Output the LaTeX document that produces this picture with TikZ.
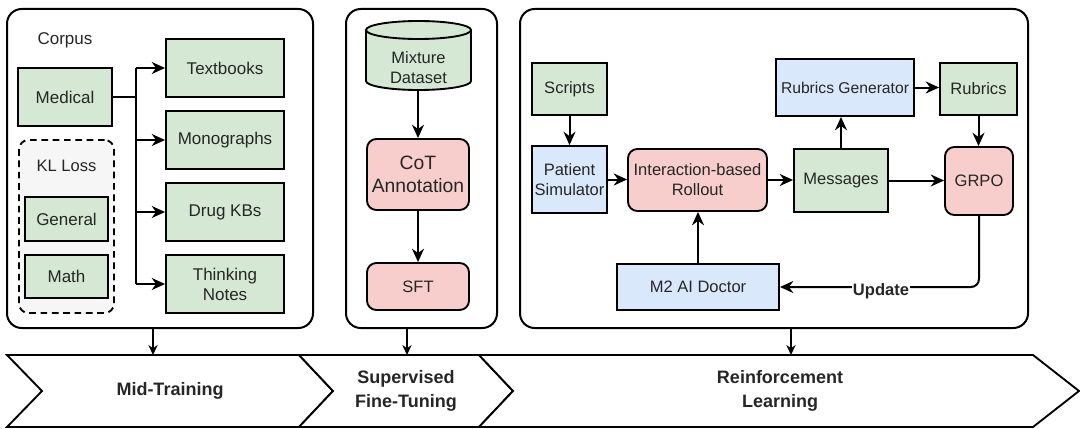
\documentclass[tikz,border=0pt]{standalone}
\usepackage{fontspec}
\setmainfont{Liberation Sans}
\usetikzlibrary{arrows.meta,calc}
\definecolor{gfill}{HTML}{D5E8D4}
\definecolor{bfill}{HTML}{DAE8FC}
\definecolor{rfill}{HTML}{F8CECC}
\definecolor{txt}{HTML}{262626}
\definecolor{klfill}{HTML}{F6F6F6}
\tikzset{
  panel/.style={draw=black, line width=1.5pt, rounded corners=11pt, inner sep=0pt},
  gbox/.style={draw=black, line width=1.4pt, fill=gfill, align=center, text=txt, inner sep=0pt},
  bbox/.style={draw=black, line width=1.4pt, fill=bfill, align=center, text=txt, inner sep=0pt},
  rbox/.style={draw=black, line width=1.4pt, fill=rfill, align=center, text=txt, rounded corners=7pt, inner sep=0pt},
  fA/.style={font=\fontsize{12.75pt}{15pt}\selectfont},
  fB/.style={font=\fontsize{12.4pt}{15pt}\selectfont},
  fC/.style={font=\fontsize{14.5pt}{17pt}\selectfont},
  fbold/.style={font=\fontsize{13.5pt}{18pt}\selectfont\bfseries, text=txt, align=center},
  conn/.style={line width=1.5pt, -{Stealth[length=10pt,width=9pt]}},
  sconn/.style={line width=1.1pt, -{Stealth[length=7.5pt,width=7pt]}},
  chev/.style={draw=black, line width=1.4pt, fill=white, line join=miter},
}
\begin{document}
\begin{tikzpicture}[x=0.75pt,y=-0.75pt]
\useasboundingbox (0,0) rectangle (1080,428);
% panels
\node[panel, minimum width=229.5pt, minimum height=239.25pt] (p1) at (160,168.5) {};
\node[panel, minimum width=113.25pt, minimum height=239.25pt] (p2) at (421.5,168.5) {};
\node[panel, minimum width=381pt, minimum height=239.25pt] (p3) at (774,168.5) {};

% ---- Panel 1
\node[fA, text=txt] (corpus) at (65,40) {Corpus};
\node[gbox, fA, minimum width=70.5pt, minimum height=43.5pt] (med) at (65,97) {Medical};
\node[gbox, fA, minimum width=88.5pt, minimum height=43.5pt] (tb) at (225,68) {Textbooks};
\node[gbox, fA, minimum width=88.5pt, minimum height=43.5pt] (mono) at (225,140) {Monographs};
\node[gbox, fA, minimum width=88.5pt, minimum height=43.5pt] (drug) at (225,212) {Drug KBs};
\node[gbox, fA, minimum width=88.5pt, minimum height=43.5pt] (think) at (225,284) {Thinking\\Notes};
\node[draw=black, line width=1.4pt, dash pattern=on 5pt off 3.5pt, fill=klfill, rounded corners=7pt,
      minimum width=71.25pt, minimum height=129.75pt, inner sep=0pt] (kl) at (66.5,226.5) {};
\node[fB, text=txt] (kltxt) at (66.5,166) {KL Loss};
\node[gbox, fA, minimum width=62.25pt, minimum height=33pt] (gen) at (66.5,219) {General};
\node[gbox, fA, minimum width=62.25pt, minimum height=32.25pt] (math) at (66.5,276.5) {Math};
\coordinate (jt) at (136,68);
\coordinate (jb) at (136,284);
\draw[line width=1.5pt] (med.east) -- (med.east -| jt);
\draw[line width=1.5pt] (jt) -- (jb);
\draw[conn] (tb.west -| jt) -- (tb.west);
\draw[conn] (mono.west -| jt) -- (mono.west);
\draw[conn] (drug.west -| jt) -- (drug.west);
\draw[conn] (think.west -| jt) -- (think.west);

% ---- Panel 2
\fill[gfill] (366,30) -- (366,81) arc[start angle=180,end angle=360,x radius=39.375pt,y radius=6.75pt]
   -- (471,30) arc[start angle=0,end angle=180,x radius=39.375pt,y radius=6.75pt] -- cycle;
\draw[line width=1.4pt] (366,30) -- (366,81) arc[start angle=180,end angle=360,x radius=39.375pt,y radius=6.75pt]
   -- (471,30) arc[start angle=0,end angle=180,x radius=39.375pt,y radius=6.75pt] -- cycle;
\draw[line width=1.4pt] (366,30) arc[start angle=180,end angle=360,x radius=39.375pt,y radius=6.75pt];
\node[fB, text=txt, align=center, minimum width=78.75pt, minimum height=51.75pt, inner sep=0pt] (mix) at (418.5,68) {Mixture\\Dataset};
\node[rbox, fC, minimum width=76.5pt, minimum height=53.25pt] (cot) at (418,174.5) {CoT\\Annotation};
\node[rbox, fB, minimum width=76.5pt, minimum height=35.25pt] (sft) at (418,286.5) {SFT};
\coordinate (mixb) at (418,90);
\draw[conn] (mixb) -- (cot.north);
\draw[conn] (cot.south) -- (sft.north);

% ---- Panel 3
\node[gbox, fB, minimum width=56.25pt, minimum height=39pt] (scr) at (569.5,89) {Scripts};
\node[bbox, fB, minimum width=56.25pt, minimum height=50.25pt] (pat) at (569.5,179.5) {Patient\\Simulator};
\node[rbox, fB, minimum width=104.25pt, minimum height=46.5pt] (roll) at (697.5,180) {Interaction-based\\Rollout};
\node[gbox, fB, minimum width=70.5pt, minimum height=47.25pt] (msg) at (841,180.5) {Messages};
\node[bbox, font=\fontsize{11.75pt}{14pt}\selectfont, text=txt, minimum width=103.5pt, minimum height=42.75pt] (rg) at (845,87.5) {Rubrics Generator};
\node[gbox, fB, minimum width=57.75pt, minimum height=39pt] (rub) at (978.5,89) {Rubrics};
\node[rbox, fB, minimum width=51pt, minimum height=51pt] (grpo) at (979,181) {GRPO};
\node[bbox, fB, minimum width=121.5pt, minimum height=34.5pt] (m2) at (698,287) {M2 AI Doctor};

\draw[conn] (scr.south) -- (pat.north);
\draw[conn] (pat.east) -- (pat.east -| roll.west);
\draw[conn] (roll.east) -- (roll.east -| msg.west);
\draw[conn] (msg.east) -- (msg.east -| grpo.west);
\draw[conn] (msg.north) -- (msg.north |- rg.south);
\draw[conn] (rg.east) -- (rg.east -| rub.west);
\draw[conn] (rub.south) -- (rub.south |- grpo.north);
\draw[conn] (m2.north) -- (m2.north |- roll.south);
\draw[conn, rounded corners=6pt] (grpo.south) |- (m2.east);
\node[font=\fontsize{12.4pt}{14pt}\selectfont\bfseries, text=txt, fill=white, inner sep=1pt] (upd) at (881,291) {Update};

% ---- Chevrons
\draw[chev] (7,355) -- (299,355) -- (333,391) -- (299,427) -- (7,427) -- (42,391) -- cycle;
\draw[chev] (299,355) -- (479,355) -- (513,391) -- (479,427) -- (299,427) -- (333,391) -- cycle;
\draw[chev] (479,355) -- (1033,355) -- (1079,391) -- (1033,427) -- (479,427) -- (513,391) -- cycle;
\node[fbold] (mt) at (170,391) {Mid-Training};
\node[fbold] (sftl) at (406,391) {Supervised\\Fine-Tuning};
\node[fbold] (rl) at (780,391) {Reinforcement\\Learning};

\coordinate (a1) at (153,355);
\coordinate (a2) at (407,355);
\coordinate (a3) at (791,355);
\draw[sconn] (p1.south -| a1) -- (a1);
\draw[sconn] (p2.south -| a2) -- (a2);
\draw[sconn] (p3.south -| a3) -- (a3);
\end{tikzpicture}
\end{document}
